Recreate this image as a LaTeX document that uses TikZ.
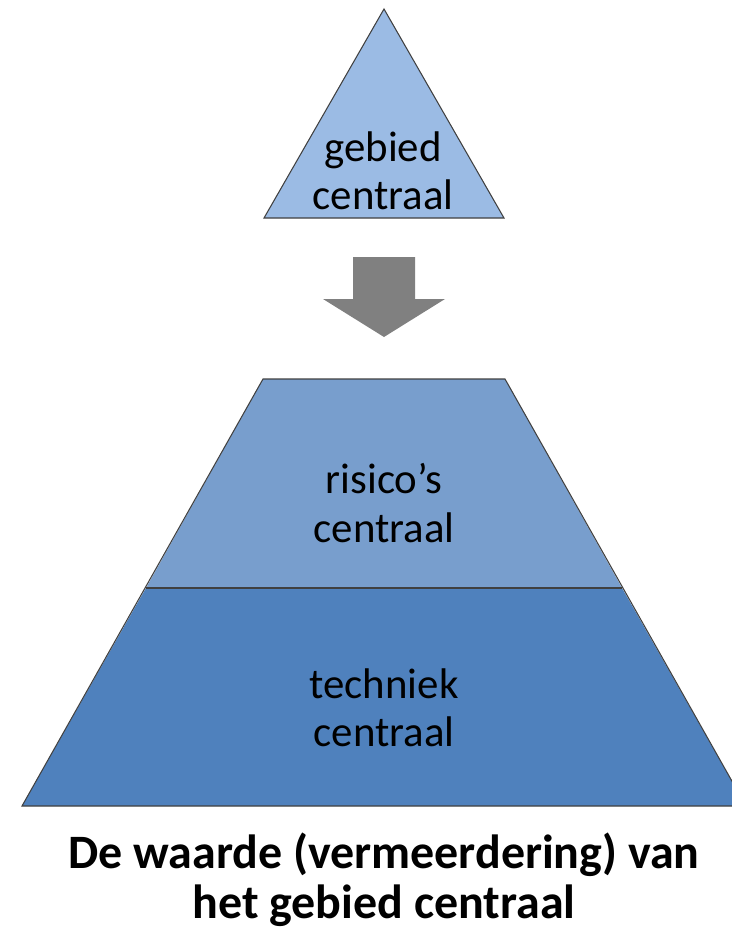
\documentclass[tikz,border=0pt]{standalone}
\usepackage{fontspec}
\setmainfont{Carlito}
\usepackage{tikz}
\usetikzlibrary{positioning, calc}

\definecolor{toplayer}{RGB}{155,187,228}
\definecolor{midlayer}{RGB}{120,158,205}
\definecolor{baselayer}{RGB}{79,129,189}
\definecolor{arrowgray}{RGB}{128,128,128}

\begin{document}
\begin{tikzpicture}[
  x=0.02cm, y=-0.02cm,
  layer/.style={draw=black!75, line width=0.6pt},
  label/.style={align=center, font=\fontsize{24.4}{27.5}\selectfont, inner sep=0pt},
  title/.style={align=center, font=\fontsize{27.3}{28.6}\selectfont\bfseries, inner sep=0pt}
]
\useasboundingbox (0,0) rectangle (731,930);

% Top triangle
\coordinate (apex) at (384,9);
\coordinate (tl) at (264,218);
\coordinate (tr) at (504,218);
\fill[toplayer] (apex) -- (tl) -- (tr) -- cycle;
\draw[layer] (apex) -- (tl) -- (tr) -- cycle;
\node[label] (gebied) at (383,171) {gebied\\centraal};

% Block arrow
\fill[arrowgray] (353,257) -- (415,257) -- (415,299) -- (445,299)
  -- (384,337) -- (323,299) -- (353,299) -- cycle;

% Pyramid
\coordinate (pa) at (263,379);
\coordinate (pb) at (505,379);
\coordinate (pc) at (622,588);
\coordinate (pd) at (146,588);
\coordinate (pe) at (746,806);
\coordinate (pf) at (22,806);
\fill[midlayer] (pa) -- (pb) -- (pc) -- (pd) -- cycle;
\fill[baselayer] (pd) -- (pc) -- (pe) -- (pf) -- cycle;
\draw[layer] (pa) -- (pb) -- (pe) -- (pf) -- cycle;
\draw[layer] (pd) -- (pc);

\node[label] (risico) at (384,503) {risico’s\\centraal};
\node[label] (techniek) at (384,708) {techniek\\centraal};

% Caption
\node[title] (caption) at (384,880) {De waarde (vermeerdering) van\\het gebied centraal};

\end{tikzpicture}
\end{document}
